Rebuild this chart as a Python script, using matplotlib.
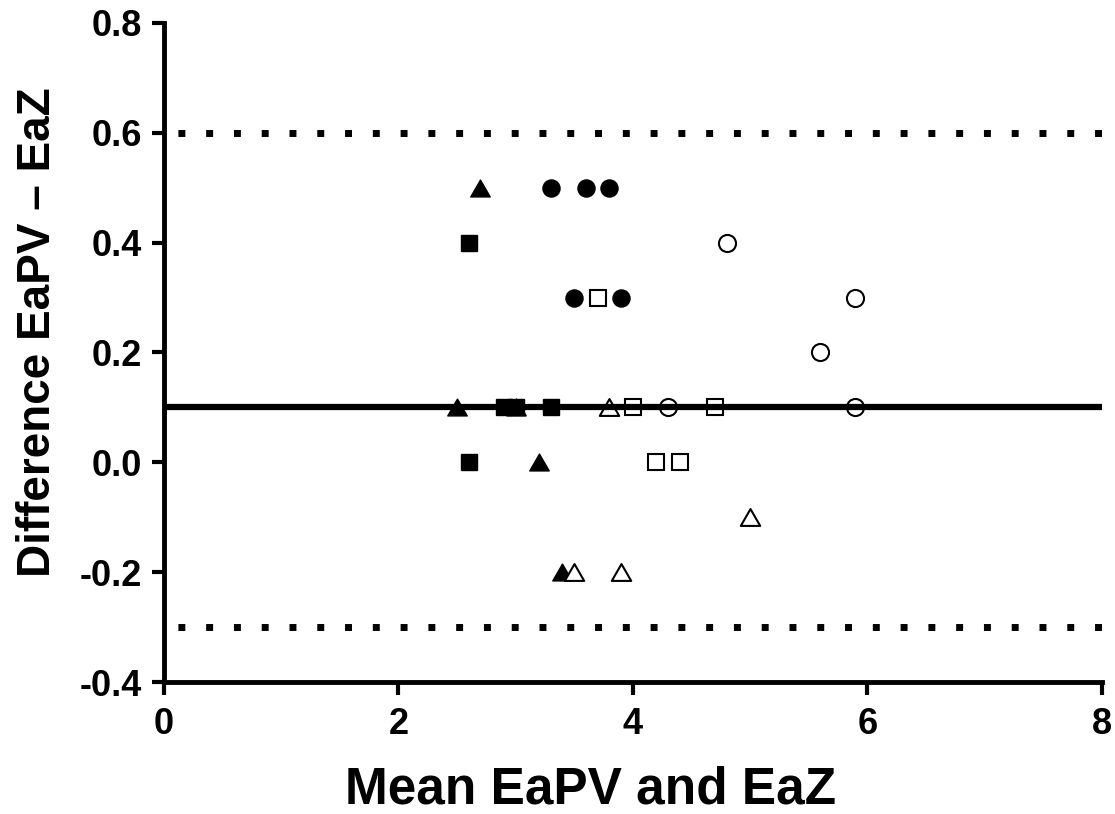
import matplotlib
matplotlib.use("Agg")
import matplotlib.pyplot as plt
from matplotlib.path import Path

plt.rcParams['font.family'] = ['Liberation Sans', 'DejaVu Sans']
plt.rcParams['font.weight'] = 'bold'

# Bland-Altman style data: (mean, difference) per group
tri_filled_x = [2.7, 2.5, 3.0, 3.2, 3.4]
tri_filled_y = [0.5, 0.1, 0.1, 0.0, -0.2]

sq_filled_x = [2.6, 2.9, 3.0, 3.3, 2.6]
sq_filled_y = [0.4, 0.1, 0.1, 0.1, 0.0]

circ_filled_x = [3.3, 3.6, 3.8, 3.5, 3.9]
circ_filled_y = [0.5, 0.5, 0.5, 0.3, 0.3]

sq_open_x = [3.7, 4.0, 4.7, 4.2, 4.4]
sq_open_y = [0.3, 0.1, 0.1, 0.0, 0.0]

tri_open_x = [3.8, 5.0, 3.5, 3.9]
tri_open_y = [0.1, -0.1, -0.2, -0.2]

circ_open_x = [4.8, 5.9, 5.6, 4.3, 5.9]
circ_open_y = [0.4, 0.3, 0.2, 0.1, 0.1]

mean_diff = 0.1
upper_loa = 0.6
lower_loa = -0.3

# slightly squat closed triangle, centred on its bounding box
tri = Path([(-1, -0.866), (1, -0.866), (0, 0.866), (-1, -0.866)],
           [Path.MOVETO, Path.LINETO, Path.LINETO, Path.CLOSEPOLY])

fig = plt.figure(figsize=(11.15, 8.14), dpi=100)
ax = fig.add_axes([0.147, 0.162, 0.841, 0.810])

# reference lines (drawn over the markers, as in the original)
ax.axhline(mean_diff, color='black', lw=4.5, zorder=4)
ax.axhline(upper_loa, color='black', lw=5, linestyle=(2, (1, 3)), zorder=4)
ax.axhline(lower_loa, color='black', lw=5, linestyle=(2, (1, 3)), zorder=4)

ax.plot(sq_filled_x, sq_filled_y, 's', ms=11.5, color='black', zorder=3)
ax.plot(tri_filled_x, tri_filled_y, marker=tri, ls='none', ms=14, color='black', zorder=3)
ax.plot(circ_filled_x, circ_filled_y, 'o', ms=12.3, color='black', zorder=3)
ax.plot(sq_open_x, sq_open_y, 's', ms=11.5, mfc='white', mec='black', mew=1.5, zorder=3)
ax.plot(tri_open_x, tri_open_y, marker=tri, ls='none', ms=14, mfc='white', mec='black', mew=1.5, zorder=3)
ax.plot(circ_open_x, circ_open_y, 'o', ms=12.3, mfc='white', mec='black', mew=1.5, zorder=3)

ax.set_xlim(0, 8)
ax.set_ylim(-0.4, 0.8)
ax.set_xticks([0, 2, 4, 6, 8])
ax.set_yticks([-0.4, -0.2, 0.0, 0.2, 0.4, 0.6, 0.8])
ax.set_yticklabels(['-0.4', '-0.2', '0.0', '0.2', '0.4', '0.6', '0.8'])

for side in ['top', 'right']:
    ax.spines[side].set_visible(False)
for side in ['left', 'bottom']:
    ax.spines[side].set_linewidth(3.5)
    ax.spines[side].set_zorder(5)

ax.tick_params(axis='both', direction='out', length=9, width=3, labelsize=26, pad=7)
ax.tick_params(axis='x', pad=9)
for lab in ax.get_xticklabels() + ax.get_yticklabels():
    lab.set_fontweight('bold')

ax.set_xlabel('Mean EaPV and EaZ', fontsize=37, fontweight='bold', labelpad=17, x=0.455)
ax.set_ylabel('Difference EaPV \u2013 EaZ', fontsize=33, fontweight='bold', labelpad=14, y=0.531)

fig.savefig('out.png', dpi=100)
